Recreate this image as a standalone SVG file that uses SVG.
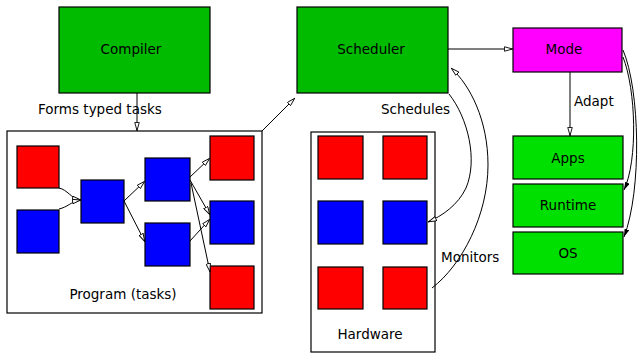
<svg xmlns="http://www.w3.org/2000/svg" width="640" height="354" viewBox="0 0 640 354">
  <style>
    .box { stroke: #000; stroke-width: 1.2; }
    .dark { fill: #00bb00; }
    .light { fill: #00e000; }
    .mode { fill: #ff00ff; }
    .red { fill: #ff0000; }
    .blue { fill: #0000ff; }
    .frame { fill: #fff; stroke: #000; stroke-width: 1.2; }
    .lbl { font-family: "DejaVu Sans", "Liberation Sans", sans-serif; font-size: 13.5px; fill: #000; }
    .mid { text-anchor: middle; }
    .edge { fill: none; stroke: #000; stroke-width: 1; }
    .open { marker-end: url(#openHead); }
    .solid { marker-end: url(#solidHead); }
  </style>
  <defs>
    <marker id="openHead" viewBox="0 0 10 6" refX="10" refY="3" markerWidth="9" markerHeight="5.4" orient="auto" markerUnits="userSpaceOnUse">
      <path d="M0.5,0.5 L9.5,3 L0.5,5.5 Z" fill="#fff" stroke="#000" stroke-width="1"/>
    </marker>
    <marker id="solidHead" viewBox="0 0 10 6" refX="10" refY="3" markerWidth="8" markerHeight="4.8" orient="auto" markerUnits="userSpaceOnUse">
      <path d="M0,0 L10,3 L0,6 Z" fill="#000"/>
    </marker>
  </defs>

  <!-- container frames -->
  <g id="program">
    <rect class="frame" x="7" y="131" width="255" height="182"/>
    <text class="lbl mid" x="123" y="299">Program (tasks)</text>
  </g>
  <g id="hardware">
    <rect class="frame" x="311" y="132" width="124" height="220"/>
    <text class="lbl mid" x="370" y="339">Hardware</text>
  </g>

  <!-- top-level nodes -->
  <g id="compiler">
    <rect class="box dark" x="59" y="7" width="151" height="86"/>
    <text class="lbl mid" x="131" y="54">Compiler</text>
  </g>
  <g id="scheduler">
    <rect class="box dark" x="297" y="7" width="151" height="86"/>
    <text class="lbl mid" x="371" y="54">Scheduler</text>
  </g>
  <g id="mode">
    <rect class="box mode" x="513" y="28" width="109" height="44"/>
    <text class="lbl mid" x="564" y="54">Mode</text>
  </g>
  <g id="apps">
    <rect class="box light" x="513" y="136" width="110" height="43"/>
    <text class="lbl mid" x="568" y="163">Apps</text>
  </g>
  <g id="runtime">
    <rect class="box light" x="513" y="184" width="110" height="43"/>
    <text class="lbl mid" x="568" y="210">Runtime</text>
  </g>
  <g id="os">
    <rect class="box light" x="513" y="232" width="110" height="42"/>
    <text class="lbl mid" x="568" y="258">OS</text>
  </g>

  <!-- tasks inside the program -->
  <g id="task-r1"><rect class="box red" x="17" y="146" width="42" height="42"/></g>
  <g id="task-b1"><rect class="box blue" x="17" y="210" width="42" height="43"/></g>
  <g id="task-b2"><rect class="box blue" x="81" y="180" width="43" height="43"/></g>
  <g id="task-b3"><rect class="box blue" x="145" y="158" width="45" height="43"/></g>
  <g id="task-b4"><rect class="box blue" x="145" y="223" width="45" height="43"/></g>
  <g id="task-r2"><rect class="box red" x="210" y="136" width="44" height="44"/></g>
  <g id="task-b5"><rect class="box blue" x="210" y="201" width="44" height="43"/></g>
  <g id="task-r3"><rect class="box red" x="210" y="266" width="44" height="43"/></g>

  <!-- hardware units -->
  <g id="hw-r1"><rect class="box red" x="318" y="136" width="45" height="43"/></g>
  <g id="hw-r2"><rect class="box red" x="383" y="136" width="44" height="43"/></g>
  <g id="hw-b1"><rect class="box blue" x="318" y="201" width="45" height="43"/></g>
  <g id="hw-b2"><rect class="box blue" x="383" y="201" width="44" height="43"/></g>
  <g id="hw-r3"><rect class="box red" x="318" y="267" width="45" height="42"/></g>
  <g id="hw-r4"><rect class="box red" x="383" y="267" width="44" height="42"/></g>

  <!-- connectors -->
  <g id="connectors">
    <path class="edge open" d="M137,93 L137,131"/>
    <path class="edge open" d="M262,131 L295,98"/>
    <path class="edge open" d="M448,49 L513,49"/>
    <path class="edge open" d="M570,72 L570,136"/>

    <path class="edge open" d="M449,94 C468,118 478,160 466,188 C458,205 442,216 428,222"/>
    <path class="edge open" d="M432,288 C462,265 488,215 488,165 C488,120 470,85 451,68"/>

    <path class="edge solid" d="M623,57 C636,90 638,160 624,190"/>
    <path class="edge solid" d="M623,50 C640,90 642,190 624,237"/>

    <path class="edge open" d="M59,188 C68,190 70,198 81,200"/>
    <path class="edge open" d="M59,209 C68,207 70,202 81,200"/>
    <path class="edge open" d="M124,201 L145,181"/>
    <path class="edge open" d="M124,201 L145,242"/>
    <path class="edge open" d="M190,177 L210,158"/>
    <path class="edge open" d="M190,180 L210,215"/>
    <path class="edge open" d="M191,183 L210,272"/>
    <path class="edge open" d="M190,241 L210,219"/>
  </g>

  <!-- edge labels -->
  <g id="labels">
    <text class="lbl" x="38" y="114">Forms typed tasks</text>
    <text class="lbl" x="381" y="114">Schedules</text>
    <text class="lbl" x="574" y="106">Adapt</text>
    <text class="lbl" x="441" y="262">Monitors</text>
  </g>
</svg>
